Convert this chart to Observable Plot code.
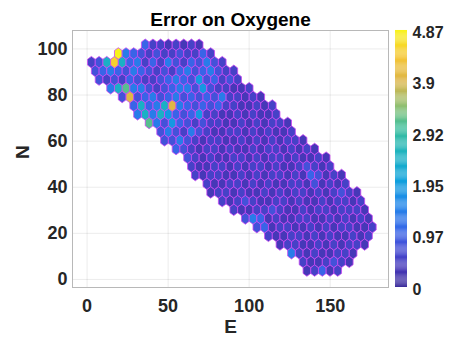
<!DOCTYPE html>
<html><head><meta charset="utf-8">
<script src="https://cdn.jsdelivr.net/npm/d3@7"></script>
<script src="https://cdn.jsdelivr.net/npm/@observablehq/plot@0.6"></script>
<style>
html,body{margin:0;padding:0;background:#fff;}
#chart{position:relative;width:450px;height:339px;overflow:hidden;}
#main{position:absolute;left:0;top:0;}
#cbar{position:absolute;left:395px;top:0;}
</style></head>
<body><div id="chart"><div id="main"></div><div id="cbar"></div></div>
<script>
const title = "Error on Oxygene";
const xLabel = "E";
const yLabel = "N";
const xTicks = [0, 50, 100, 150];
const yTicks = [0, 20, 40, 60, 80, 100];
const cbTicks = [0, 0.97, 1.95, 2.92, 3.9, 4.87];
const cbTickLabels = ["0", "0.97", "1.95", "2.92", "3.9", "4.87"];
const vMax = 4.87;

// hexagonal grid (data units)
const gridE0 = 2.65, gridDE = 4.75, gridN0 = 3.87, gridDN = 3.766;
// first column index of each row (row 0 = bottom)
const rowStart = [28,27,26,24,23,21,20,18,17,15,15,13,13,12,11,9,9,7,6,5,4,2,1,0,0,3,7];
// one code per cell, left to right
const rowCodes = [
  "01301",
  "1001210",
  "410100110",
  "011001010110",
  "10011010100101",
  "2301100101011001",
  "24301001100101010",
  "100112100101101110",
  "1012100110100101101",
  "01101001010110101210",
  "1001101010011020101",
  "10110010101101032010",
  "1001101011010012101",
  "2101001101011010010",
  "3210110100101101010",
  "2242101100101010110",
  "242142100110101001",
  "8425321211001010110",
  "4646532351100101001",
  "3634694323231100101",
  "2923423423232411010",
  "4684421234425211001",
  "2121321123432523121",
  "2343243212134234211",
  "126X63413142132421",
  "Y432121121131",
  "31101010"
];
const levelCodes = "0123456789XY";
const levelValues = [0.35, 0.55, 0.8, 1.05, 1.4, 1.85, 2.45, 2.9, 3.15, 3.95, 4.5, 4.87];

const rampPos = [0, 0.08, 0.16, 0.22, 0.32, 0.42, 0.52, 0.62, 0.70, 0.80, 0.90, 1];
const rampColors = ["#3d2e9a","#4739bb","#4450d8","#3866e8","#2186ea","#0da2dc","#1db3c0","#3dbf9c","#8cc074","#dcb548","#f6c634","#f8f419"];

const cells = [];
rowCodes.forEach((codes, r) => {
  for (let i = 0; i < codes.length; i++) {
    const c = rowStart[r] + i;
    cells.push({
      E: gridE0 + (c + (r % 2) / 2) * gridDE,
      N: gridN0 + r * gridDN,
      v: levelValues[levelCodes.indexOf(codes[i])]
    });
  }
});

const colorOpts = {type: "linear", domain: rampPos.map(t => t * vMax), range: rampColors, interpolate: d3.interpolateRgb};
const font = "'Liberation Sans', Arial, Helvetica, sans-serif";
const layout = {
  width: 395, height: 339,
  marginLeft: 72, marginRight: 7, marginTop: 30, marginBottom: 52,
  x: {domain: [-9, 186]},
  y: {domain: [-3.5, 108]}
};

// probe scales to size the hexagons
const probe = Plot.plot({...layout, marks: [Plot.frame()]});
const sx = probe.scale("x"), sy = probe.scale("y");
const hw = Math.abs(sx.apply(gridDE) - sx.apply(0)) / 2;
const rowPx = Math.abs(sy.apply(gridDN) - sy.apply(0));
const hh = rowPx * 2 / 3;
const hexSymbol = {
  draw(ctx) {
    ctx.moveTo(0, -hh);
    ctx.lineTo(hw, -hh / 2);
    ctx.lineTo(hw, hh / 2);
    ctx.lineTo(0, hh);
    ctx.lineTo(-hw, hh / 2);
    ctx.lineTo(-hw, -hh / 2);
    ctx.closePath();
  }
};

const main = Plot.plot({
  ...layout,
  style: {fontFamily: font, background: "white", color: "#262626"},
  x: {domain: [-9, 186], ticks: xTicks, label: null},
  y: {domain: [-3.5, 108], ticks: yTicks, label: null},
  color: colorOpts,
  marks: [
    Plot.gridX(xTicks, {stroke: "#000", strokeOpacity: 0.08}),
    Plot.gridY(yTicks, {stroke: "#000", strokeOpacity: 0.08}),
    Plot.frame({stroke: "#b8b8b8"}),
    Plot.dot(cells, {x: "E", y: "N", fill: "v", r: 1, symbol: hexSymbol, stroke: "#cc48f2", strokeWidth: 0.8}),
    Plot.axisX(xTicks, {tickSize: 0, tickPadding: 12, fontSize: 18, fontWeight: "bold", label: null}),
    Plot.axisY(yTicks, {tickSize: 0, tickPadding: 5, fontSize: 18, fontWeight: "bold", label: null}),
    Plot.text([title], {frameAnchor: "top", dy: -18, text: d => d, fontSize: 19, fontWeight: "bold", fill: "#000"}),
    Plot.text([xLabel], {frameAnchor: "bottom", dy: 45, text: d => d, fontSize: 19, fontWeight: "bold"}),
    Plot.text([yLabel], {frameAnchor: "left", dx: -50, rotate: -90, text: d => d, fontSize: 19, fontWeight: "bold"})
  ]
});
document.getElementById("main").appendChild(main);

const nb = 240;
const bands = d3.range(nb).map(i => ({lo: i * vMax / nb, hi: (i + 1.02) * vMax / nb, mid: (i + 0.5) * vMax / nb}));
const cbar = Plot.plot({
  width: 55, height: 339,
  marginLeft: 0, marginRight: 43, marginTop: 30, marginBottom: 52,
  style: {fontFamily: font, background: "white", color: "#262626"},
  x: {domain: [0, 1], axis: null},
  y: {domain: [0, vMax], label: null},
  color: colorOpts,
  marks: [
    Plot.rect(bands, {x1: 0, x2: 1, y1: "lo", y2: "hi", fill: "mid"}),
    Plot.axisY(cbTicks, {anchor: "right", tickSize: 0, tickPadding: 5, dy: 2, fontSize: 16, fontWeight: "bold", tickFormat: (d, i) => cbTickLabels[i], label: null})
  ]
});
document.getElementById("cbar").appendChild(cbar);
</script></body></html>
